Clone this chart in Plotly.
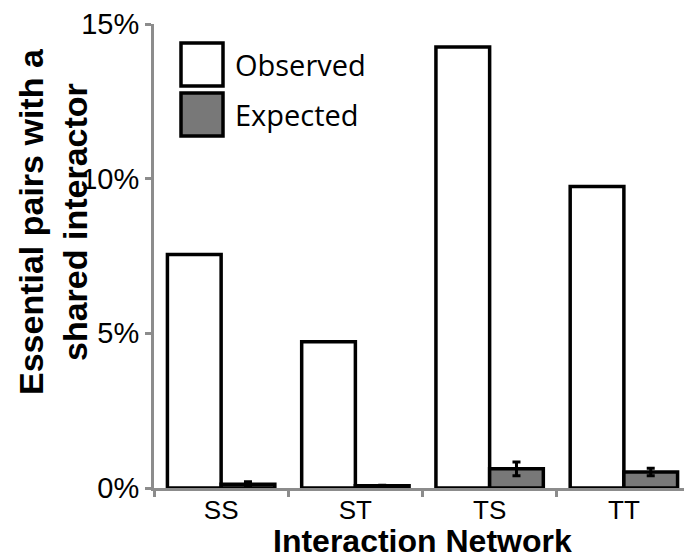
import plotly.graph_objects as go

categories = ["SS", "ST", "TS", "TT"]
observed = [7.55, 4.73, 14.26, 9.75]
expected = [0.12, 0.07, 0.62, 0.52]
expected_err = [0.08, 0.02, 0.22, 0.12]
y_ticks = [0, 5, 10, 15]
y_tick_labels = ["0%", "5%", "10%", "15%"]

W, H = 692, 559
ml, mr, mt, mb = 146, 9, 16, 79
pw, ph = W - ml - mr, H - mt - mb

def px_x(v):
    return (v - ml) / pw

def px_y(v):
    return (H - mb - v) / ph

fig = go.Figure()
fig.add_trace(go.Bar(
    x=categories, y=observed, name="Observed",
    marker=dict(color="white", line=dict(color="black", width=3.5)),
    showlegend=False,
))
fig.add_trace(go.Bar(
    x=categories, y=expected, name="Expected",
    marker=dict(color="#787878", line=dict(color="black", width=3.5)),
    error_y=dict(type="data", array=expected_err, color="black", thickness=3, width=4),
    showlegend=False,
))

axis_gray = "#8c8c8c"
fig.update_layout(
    width=W, height=H,
    margin=dict(l=ml, r=mr, t=mt, b=mb, autoexpand=False),
    paper_bgcolor="white", plot_bgcolor="white",
    barmode="group", bargap=0.2, bargroupgap=0,
    font=dict(family="Liberation Sans, Arial, sans-serif", color="black"),
    xaxis=dict(
        type="category", range=[-0.5, 3.5], automargin=False,
        showline=True, linecolor=axis_gray, linewidth=3,
        ticks="outside", tickson="boundaries", ticklen=6, tickwidth=3, tickcolor=axis_gray,
        tickfont=dict(size=26, color="black"), ticklabelstandoff=-3,
        showgrid=False, zeroline=False,
    ),
    yaxis=dict(
        range=[0, 15], tickvals=y_ticks, ticktext=y_tick_labels, automargin=False,
        showline=True, linecolor=axis_gray, linewidth=3,
        ticks="outside", ticklen=6, tickwidth=3, tickcolor=axis_gray,
        tickfont=dict(size=29, color="black"),
        showgrid=False, zeroline=False,
    ),
)

# x axis title
fig.add_annotation(
    xref="paper", yref="paper", x=0.5, y=px_y(533),
    xanchor="center", yanchor="middle", showarrow=False,
    text="<b>Interaction Network</b>", font=dict(size=32, color="black"),
)

# y axis title (two lines, bold, rotated)
fig.add_annotation(
    xref="paper", yref="paper", x=px_x(45), y=px_y(214),
    xanchor="center", yanchor="middle", textangle=-90, showarrow=False,
    text="<b>Essential pairs with a<br>shared interactor</b>",
    font=dict(size=34, color="black"),
)

# custom legend
legend_items = [("Observed", "white", 35, 78), ("Expected", "#787878", 85, 128)]
for label, color, top, bot in legend_items:
    fig.add_shape(type="rect", xref="paper", yref="paper",
                  x0=px_x(173), x1=px_x(215), y0=px_y(bot), y1=px_y(top),
                  fillcolor=color, line=dict(color="black", width=3.5))
    fig.add_annotation(xref="paper", yref="paper", x=px_x(225), y=px_y((top + bot) / 2),
                       xanchor="left", yanchor="middle", showarrow=False,
                       text=label, font=dict(family="Open Sans, sans-serif", size=29, color="black"))

fig.write_html("out.html")
